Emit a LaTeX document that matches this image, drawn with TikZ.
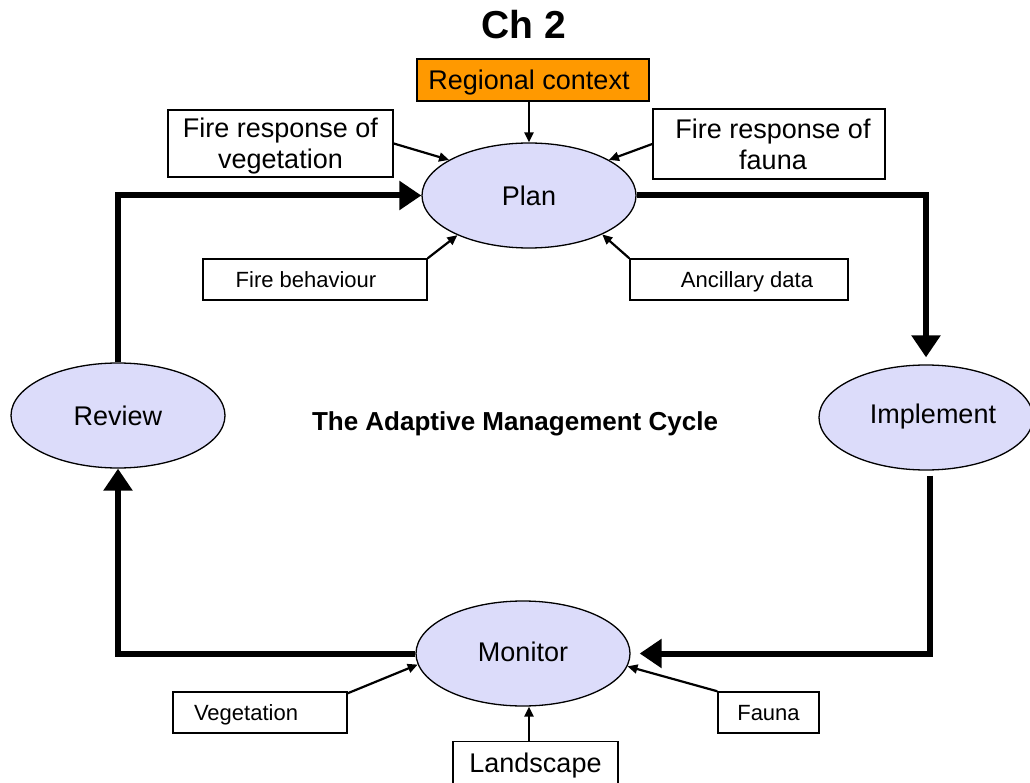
\documentclass[tikz,border=0pt]{standalone}
\usepackage{fontspec}
\setmainfont{Liberation Sans}
\usetikzlibrary{shapes.geometric,arrows.meta}
\definecolor{ellfill}{RGB}{220,220,250}
\definecolor{rcorange}{RGB}{255,153,0}
\begin{document}
\begin{tikzpicture}[x=1pt,y=-1pt,
  inbox/.style={draw,line width=1.5pt,rectangle,inner sep=0pt,fill=white,text depth=0pt},
  bigtxt/.style={font=\fontsize{27}{31}\selectfont},
  smalltxt/.style={font=\fontsize{22}{26}\selectfont},
  stage/.style={draw,line width=1.3pt,ellipse,fill=ellfill,inner sep=0pt,
    minimum width=214pt,minimum height=105pt,font=\fontsize{27}{31}\selectfont},
  cyclearrow/.style={line width=6pt,-{Triangle[length=22pt,width=28pt]}},
  feedarrow/.style={line width=2.2pt,-{Triangle[length=10pt,width=9pt]}}]
\useasboundingbox (0,0) rectangle (1030,783);
% title
\node[font=\bfseries\fontsize{39}{44}\selectfont] (title) at (524,25) {Ch 2};
\node[font=\bfseries\fontsize{26}{30}\selectfont,text depth=0pt] (cyc) at (515,421) {The Adaptive Management Cycle};
% stages
\node[stage] (plan) at (529,195.5) {Plan};
\node[stage] (impl) at (926,417.5) {\hspace*{14pt}\raisebox{4pt}[19pt][0pt]{Implement}};
\node[stage] (review) at (118,415.5) {Review};
\node[stage] (mon) at (523,653.5) {\raisebox{2pt}[19pt][0pt]{Monitor}};
% input boxes
\node[inbox,bigtxt,fill=rcorange,minimum width=232pt,minimum height=42pt] (rc) at (533,80) {Regional context\hspace*{8pt}};
\node[inbox,bigtxt,align=center,minimum width=225pt,minimum height=67pt] (fv) at (280.5,143.5) {Fire response of\\vegetation};
\node[inbox,bigtxt,align=center,minimum width=232pt,minimum height=70pt] (ff) at (769,144) {\hspace*{8pt}Fire response of\\\hspace*{8pt}fauna};
\node[inbox,smalltxt,minimum width=224pt,minimum height=41pt] (fb) at (315,279.5) {Fire behaviour\hspace*{18pt}};
\node[inbox,smalltxt,minimum width=218pt,minimum height=41pt] (an) at (739,279.5) {\hspace*{16pt}Ancillary data};
\node[inbox,smalltxt,minimum width=174pt,minimum height=41pt] (veg) at (260,712.5) {Vegetation\hspace*{28pt}};
\node[inbox,smalltxt,minimum width=101pt,minimum height=41pt] (fa) at (768.5,712.5) {Fauna};
\node[inbox,bigtxt,minimum width=165pt,minimum height=42pt] (land) at (535.5,762.5) {Landscape};
% cycle connectors
\draw[cyclearrow] (review.north) |- (plan.west);
\draw[cyclearrow] (plan.east) -| ([yshift=7pt]impl.north);
\draw[cyclearrow] ([xshift=4pt,yshift=-5pt]impl.south) |- ([xshift=9pt]mon.east);
\draw[cyclearrow] (mon.west) -| (review.south);
% feed arrows
\draw[feedarrow] (rc.south -| plan.north) -- (plan.north);
\draw[feedarrow] (fv.east) -- (plan.156);
\draw[feedarrow] (ff.west) -- (plan.24);
\draw[feedarrow] (fb.north east) -- (plan.209);
\draw[feedarrow] (an.north west) -- (plan.332);
\draw[feedarrow] ([yshift=-2pt]veg.north east) -- (mon.186);
\draw[feedarrow] (fa.north west) -- (mon.353);
\draw[feedarrow] ([xshift=-6.5pt]land.north) -- ([xshift=-6.5pt]land.north |- mon.south);
\end{tikzpicture}
\end{document}
